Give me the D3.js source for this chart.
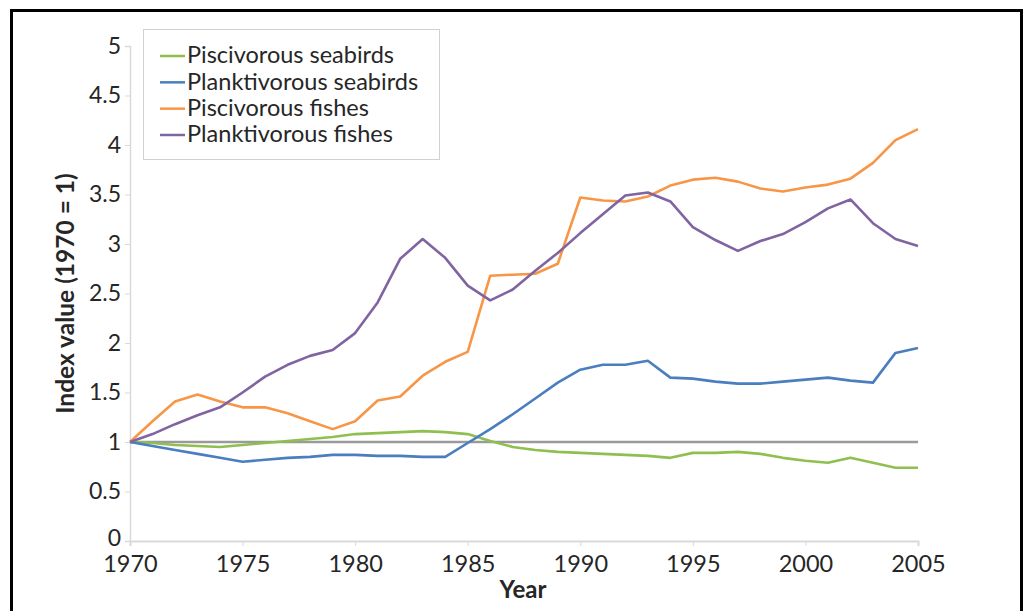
<!DOCTYPE html>
<html>
<head>
<meta charset="utf-8">
<script src="https://cdn.jsdelivr.net/npm/d3@7"></script>
<style>
  html, body { margin: 0; padding: 0; background: #fff; }
  svg { display: block; }
  text { font-family: Lato, "Open Sans", sans-serif; fill: #262626; }
</style>
</head>
<body>
<svg id="chart" width="1027" height="611"></svg>
<script>
// Index values, 1970 = 1
const years = d3.range(1970, 2006);

const seriesNames = [
  "Piscivorous seabirds",
  "Planktivorous seabirds",
  "Piscivorous fishes",
  "Planktivorous fishes"
];

const piscivorousSeabirds = [
  1.00, 0.99, 0.97, 0.96, 0.95, 0.97, 0.99, 1.01, 1.03, 1.05,
  1.08, 1.09, 1.10, 1.11, 1.10, 1.08, 1.01, 0.95, 0.92, 0.90,
  0.89, 0.88, 0.87, 0.86, 0.84, 0.89, 0.89, 0.90, 0.88, 0.84,
  0.81, 0.79, 0.84, 0.79, 0.74, 0.74
];

const planktivorousSeabirds = [
  1.00, 0.96, 0.92, 0.88, 0.84, 0.80, 0.82, 0.84, 0.85, 0.87,
  0.87, 0.86, 0.86, 0.85, 0.85, 0.99, 1.13, 1.28, 1.44, 1.60,
  1.73, 1.78, 1.78, 1.82, 1.65, 1.64, 1.61, 1.59, 1.59, 1.61,
  1.63, 1.65, 1.62, 1.60, 1.90, 1.95
];

const piscivorousFishes = [
  1.00, 1.21, 1.41, 1.48, 1.41, 1.35, 1.35, 1.29, 1.21, 1.13,
  1.21, 1.42, 1.46, 1.67, 1.81, 1.91, 2.68, 2.69, 2.70, 2.80,
  3.47, 3.44, 3.43, 3.48, 3.59, 3.65, 3.67, 3.63, 3.56, 3.53,
  3.57, 3.60, 3.66, 3.82, 4.05, 4.16
];

const planktivorousFishes = [
  1.00, 1.08, 1.18, 1.27, 1.35, 1.50, 1.66, 1.78, 1.87, 1.93,
  2.10, 2.41, 2.85, 3.05, 2.86, 2.58, 2.43, 2.54, 2.73, 2.91,
  3.11, 3.30, 3.49, 3.52, 3.43, 3.17, 3.04, 2.93, 3.03, 3.10,
  3.22, 3.36, 3.45, 3.21, 3.05, 2.98
];

const seriesValues = [piscivorousSeabirds, planktivorousSeabirds, piscivorousFishes, planktivorousFishes];
const seriesColors = ["#8fbf4f", "#4a7ebf", "#f79646", "#8064a2"];

const yTicks = [0, 0.5, 1, 1.5, 2, 2.5, 3, 3.5, 4, 4.5, 5];
const xTicks = [1970, 1975, 1980, 1985, 1990, 1995, 2000, 2005];
const baselineValue = 1;

const svg = d3.select("#chart");

// outer frame
svg.append("rect")
  .attr("x", 11.5).attr("y", 10.5)
  .attr("width", 1010).attr("height", 640)
  .attr("fill", "none").attr("stroke", "#000").attr("stroke-width", 3);

const x = d3.scaleLinear().domain([1970, 2005]).range([130, 918]);
const y = d3.scaleLinear().domain([0, 5]).range([541, 46]);

// y axis
const yAxis = svg.append("g")
  .attr("transform", `translate(${x(1970)},0)`)
  .call(d3.axisLeft(y).tickValues(yTicks).tickSize(5).tickPadding(4)
    .tickFormat(d => String(d)));
yAxis.select(".domain").attr("stroke", "#d9d9d9").attr("stroke-width", 1.5);
yAxis.selectAll(".tick line").attr("stroke", "#d9d9d9");
yAxis.selectAll(".tick text")
  .style("font-family", "Lato, sans-serif").style("font-size", "23px").attr("fill", "#262626");
// the bottom label sits a little above its tick, clear of the year labels
yAxis.selectAll(".tick").filter(d => d === 0).select("text").attr("y", -3);

// x axis
const xAxis = svg.append("g")
  .attr("transform", `translate(0,${y(0)})`)
  .call(d3.axisBottom(x).tickValues(xTicks).tickSize(5).tickPadding(9)
    .tickFormat(d3.format("d")));
xAxis.select(".domain").attr("stroke", "#d9d9d9").attr("stroke-width", 2);
xAxis.selectAll(".tick line").attr("stroke", "#d9d9d9");
xAxis.selectAll(".tick text")
  .style("font-family", "Lato, sans-serif").style("font-size", "23.5px").attr("fill", "#262626");

// axis titles
svg.append("text")
  .attr("transform", `translate(74,${(y(0) + y(5)) / 2}) rotate(-90)`)
  .attr("text-anchor", "middle")
  .style("font-size", "24.5px").style("font-weight", "bold")
  .text("Index value (1970 = 1)");

svg.append("text")
  .attr("x", 523).attr("y", 598)
  .attr("text-anchor", "middle")
  .style("font-size", "24px").style("font-weight", "bold")
  .text("Year");

// reference line at index = 1
svg.append("line")
  .attr("x1", x(1970)).attr("x2", x(2005))
  .attr("y1", y(baselineValue)).attr("y2", y(baselineValue))
  .attr("stroke", "#9a9a9a").attr("stroke-width", 2.5);

// series lines
const line = d3.line()
  .x((d, i) => x(years[i]))
  .y(d => y(d));

svg.append("g").selectAll("path")
  .data(seriesValues)
  .join("path")
  .attr("d", d => line(d))
  .attr("fill", "none")
  .attr("stroke", (d, i) => seriesColors[i])
  .attr("stroke-width", 2.6)
  .attr("stroke-linejoin", "round");

// legend
const legend = svg.append("g");
legend.append("rect")
  .attr("x", 143.5).attr("y", 29.5)
  .attr("width", 296).attr("height", 130)
  .attr("fill", "#fff").attr("stroke", "#d0d0d0").attr("stroke-width", 1);

const rowY = d3.scalePoint().domain(seriesNames).range([55, 134]);

const rows = legend.selectAll("g.row")
  .data(seriesNames)
  .join("g")
  .attr("class", "row")
  .attr("transform", d => `translate(0,${rowY(d)})`);

rows.append("line")
  .attr("x1", 160).attr("x2", 185)
  .attr("y1", 1).attr("y2", 1)
  .attr("stroke", (d, i) => seriesColors[i])
  .attr("stroke-width", 2.5);

rows.append("text")
  .attr("x", 187).attr("y", 0)
  .attr("dy", "0.35em")
  .style("font-size", "23.5px")
  .text(d => d);
</script>
</body>
</html>
